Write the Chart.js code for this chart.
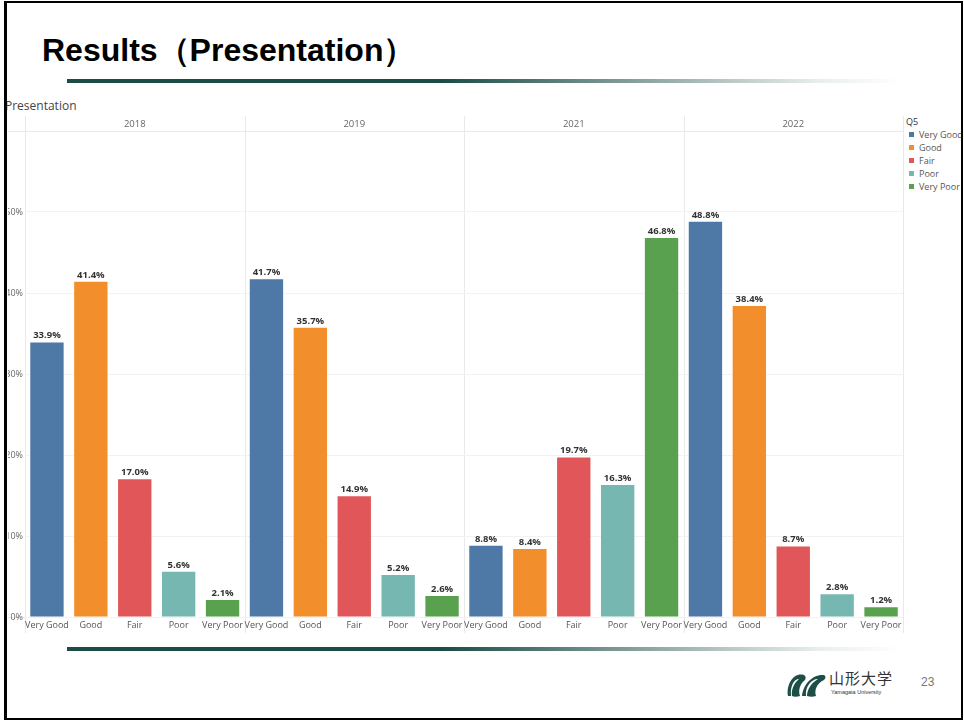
<!DOCTYPE html>
<html>
<head>
<meta charset="utf-8">
<script src="https://cdn.jsdelivr.net/npm/chart.js@4.4.0/dist/chart.umd.min.js"></script>
<style>
  body { margin: 0; width: 964px; height: 721px; position: relative; background: #fff; overflow: hidden; font-family: "Open Sans", sans-serif; }
  .frame { position: absolute; left: 4px; top: 1px; width: 954px; height: 715px; border: 2px solid #000; border-left-width: 3px; z-index: 5; pointer-events: none; }
  .title { position: absolute; left: 42px; top: 29px; font: bold 32px "Liberation Sans", Arial, sans-serif; color: #000; white-space: nowrap; }
  .rule { position: absolute; left: 67px; width: 835px; height: 4px; background: linear-gradient(to right, #1b4d47 0%, #1b4d47 45%, #8fa7a3 70%, #e8eeed 90%, #fff 100%); }
  .sheet { position: absolute; left: 5px; top: 97px; font-size: 12px; color: #444; }
  #wrap { position: absolute; left: 8px; top: 116px; width: 897px; height: 519px; }
  .legend { position: absolute; left: 906px; top: 115px; font-size: 9px; color: #555; line-height: 13px; white-space: nowrap; }
  .legend .hd { color: #333; }
  .legend i { display: inline-block; width: 5px; height: 5px; margin: 0 5px 1px 3px; }
  .logo { position: absolute; left: 786px; top: 666px; }
  .uni { position: absolute; left: 829px; top: 667px; font: 15px "Noto Sans CJK JP", sans-serif; color: #333; letter-spacing: 1px; }
  .uni-en { position: absolute; left: 831px; top: 689px; font: 5.5px "Liberation Sans", Arial, sans-serif; color: #333; }
  .page { position: absolute; left: 921px; top: 675px; font: 12px "Liberation Sans", Arial, sans-serif; color: #777; }
</style>
</head>
<body>
<div class="frame"></div>
<div class="title">Results（Presentation）</div>
<div class="rule" style="top:79px"></div>
<div class="sheet">Presentation</div>
<div id="wrap"><canvas id="chart" width="897" height="519"></canvas></div>
<div class="legend" id="legend"><div class="hd">Q5</div></div>
<div class="rule" style="top:647px"></div>
<svg class="logo" width="42" height="34" viewBox="0 0 42 34">
  <path d="M2 30 C 0 18, 8 6, 18 9 C 20 10, 20 12, 19 14 C 14 18, 12 24, 14 30 C 11 31, 8 31, 6 30 C 5 24, 8 17, 13 13 C 8 13, 4 20, 5 30 Z" fill="#1e4f47"/>
  <path d="M16 30 C 17 19, 26 8, 38 9 C 40 10, 40 12, 38 14 C 31 17, 28 24, 30 30 C 27 31, 24 31, 21 30 C 21 24, 25 17, 32 13 C 25 13, 19 21, 20 30 Z" fill="#1e4f47"/>
</svg>
<div class="uni">山形大学</div>
<div class="uni-en">Yamagata University</div>
<div class="page">23</div>
<script>
const years = ["2018", "2019", "2021", "2022"];
const ratings = ["Very Good", "Good", "Fair", "Poor", "Very Poor"];
const ratingColors = ["#4e79a7", "#f28e2b", "#e15759", "#76b7b2", "#59a14f"];
const values2018 = [33.9, 41.4, 17.0, 5.6, 2.1];
const values2019 = [41.7, 35.7, 14.9, 5.2, 2.6];
const values2021 = [8.8, 8.4, 19.7, 16.3, 46.8];
const values2022 = [48.8, 38.4, 8.7, 2.8, 1.2];
const yTicks = [0, 10, 20, 30, 40, 50];

const allValues = [values2018, values2019, values2021, values2022];
const labels = [];
const data = [];
const colors = [];
allValues.forEach((vals) => {
  vals.forEach((v, i) => {
    labels.push(ratings[i]);
    data.push(v);
    colors.push(ratingColors[i]);
  });
});

// legend
const legend = document.getElementById("legend");
ratings.forEach((r, i) => {
  const row = document.createElement("div");
  row.innerHTML = `<i style="background:${ratingColors[i]}"></i>${r}`;
  legend.appendChild(row);
});

const panelPlugin = {
  id: "panels",
  beforeDraw(chart) {
    const { ctx, chartArea } = chart;
    const { left, right, top, bottom } = chartArea;
    const w = (right - left) / labels.length;
    ctx.save();
    ctx.strokeStyle = "#e9e9e9";
    ctx.lineWidth = 1;
    ctx.beginPath();
    ctx.moveTo(0, top + 0.5);
    ctx.lineTo(right, top + 0.5);
    ctx.moveTo(0, bottom + 0.5);
    ctx.lineTo(right, bottom + 0.5);
    for (let p = 0; p <= years.length; p++) {
      const xp = Math.round(left + p * ratings.length * w) + 0.5;
      ctx.moveTo(xp, 0);
      ctx.lineTo(xp, bottom + 16);
    }
    ctx.stroke();
    ctx.fillStyle = "#666";
    ctx.font = '9.5px "Open Sans"';
    ctx.textAlign = "center";
    ctx.textBaseline = "middle";
    years.forEach((y, p) => {
      const cx = left + (p + 0.5) * ratings.length * w;
      ctx.fillText(y, cx, top - 7);
    });
    ctx.restore();
  },
  afterDatasetsDraw(chart) {
    const { ctx } = chart;
    const meta = chart.getDatasetMeta(0);
    ctx.save();
    ctx.fillStyle = "#333";
    ctx.font = 'bold 9.5px "Open Sans"';
    ctx.textAlign = "center";
    ctx.textBaseline = "bottom";
    meta.data.forEach((bar, i) => {
      ctx.fillText(data[i].toFixed(1) + "%", bar.x, bar.y - 2);
    });
    ctx.restore();
  },
};

new Chart(document.getElementById("chart"), {
  type: "bar",
  data: {
    labels: labels,
    datasets: [
      {
        data: data,
        backgroundColor: colors,
        borderWidth: 0,
        barPercentage: 0.76,
        categoryPercentage: 1,
      },
    ],
  },
  options: {
    responsive: false,
    animation: false,
    layout: { padding: { top: 15, right: 2, left: 0, bottom: 0 } },
    plugins: { legend: { display: false }, tooltip: { enabled: false } },
    scales: {
      x: {
        grid: { display: false, drawTicks: false },
        border: { display: false },
        ticks: {
          autoSkip: false,
          maxRotation: 0,
          padding: 3,
          color: "#555",
          font: { family: "Open Sans", size: 9 },
        },
        afterFit(scale) {
          scale.height = 18;
        },
      },
      y: {
        min: 0,
        max: 60,
        afterBuildTicks(scale) {
          scale.ticks = yTicks.map((v) => ({ value: v }));
        },
        grid: { color: "#f2f2f2", drawTicks: false },
        border: { display: false },
        ticks: {
          padding: 2,
          color: "#666",
          font: { family: "Open Sans", size: 9 },
          callback: (v) => v + "%",
        },
        afterFit(scale) {
          scale.width = 17;
        },
      },
    },
  },
  plugins: [panelPlugin],
});
</script>
</body>
</html>
